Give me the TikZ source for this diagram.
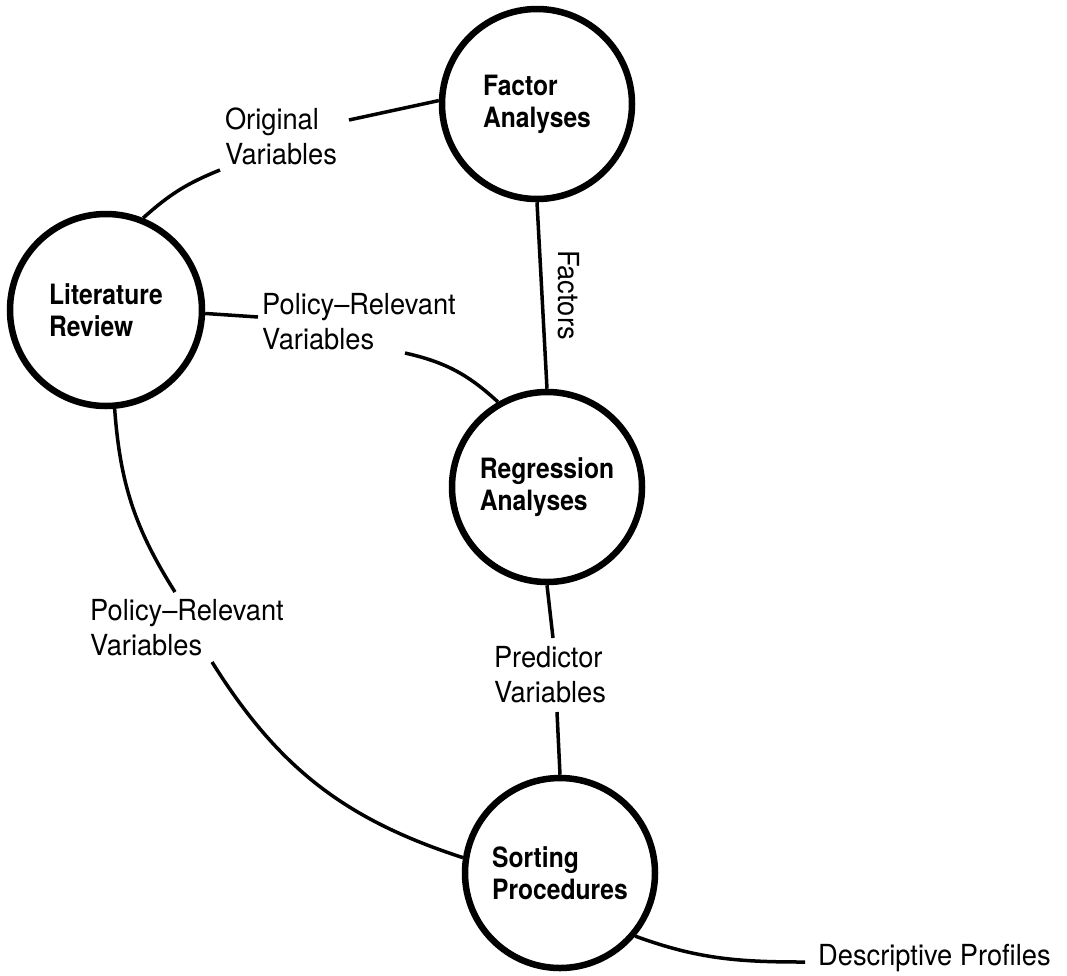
\documentclass[tikz,border=0pt]{standalone}
\usepackage{fontspec}
\setmainfont{TeX Gyre Heros}
\newfontfamily\circfont[FakeStretch=0.88, Ligatures=TeX]{TeX Gyre Heros}
\newfontfamily\etqfont[FakeStretch=0.94, Ligatures=TeX]{TeX Gyre Heros}

\begin{document}
\begin{tikzpicture}[x=1pt, y=1pt,
  proc/.style={draw, circle, line width=6.5pt, align=left, inner sep=0pt, font=\circfont\fontsize{28}{32}\selectfont\bfseries},
  etq/.style={align=left, inner sep=0pt, font=\etqfont\fontsize{29}{35}\selectfont},
  linea/.style={line width=3.5pt}
]
\useasboundingbox (0,0) rectangle (1067,-975);
% circulos
\node[proc, minimum size=190pt] (fa) at (537,-104) {Factor\\Analyses};
\node[proc, minimum size=192pt] (li) at (106,-310) {Literature\\Review};
\node[proc, minimum size=190pt] (re) at (547,-487) {Regression\\Analyses};
\node[proc, minimum size=190pt] (so) at (560,-873) {Sorting\\Procedures};

% etiquetas
\node[etq] (ov) at (281,-136) {Original\\Variables};
\node[etq] (pr1) at (359,-322) {Policy--Relevant\\Variables};
\node[etq, rotate=-90] (fc) at (569,-295) {Factors};
\node[etq] (pr2) at (187,-628) {Policy--Relevant\\Variables};
\node[etq] (pv) at (550,-675) {Predictor\\Variables};
\node[etq, anchor=west] (dp) at (818,-958) {Descriptive Profiles};

% extremos libres
\coordinate (ov-a) at (220,-170);
\coordinate (ov-b) at (349,-120);
\coordinate (pr1-a) at (258,-317);
\coordinate (pr1-b) at (405,-353);
\coordinate (pr2-a) at (175,-592);
\coordinate (pr2-b) at (212,-662);
\coordinate (pv-a) at (553,-638);
\coordinate (pv-b) at (557,-712);
\coordinate (dp-a) at (805,-962);

% lineas
\draw[linea] (li.68) to[bend left=10] (ov-a);
\draw[linea] (ov-b) -- (fa.178);
\draw[linea] (li.-2) -- (pr1-a);
\draw[linea] (pr1-b) to[bend left=15] (re.120);
\draw[linea] (fa.south) -- (re.north);
\draw[linea] (li.275) to[bend right=14] (pr2-a);
\draw[linea] (pr2-b) to[bend right=20] (so.171);
\draw[linea] (re.south) -- (pv-a);
\draw[linea] (pv-b) -- (so.north);
\draw[linea] (so.-40) to[out=-20, in=180] (dp-a);
\end{tikzpicture}
\end{document}
